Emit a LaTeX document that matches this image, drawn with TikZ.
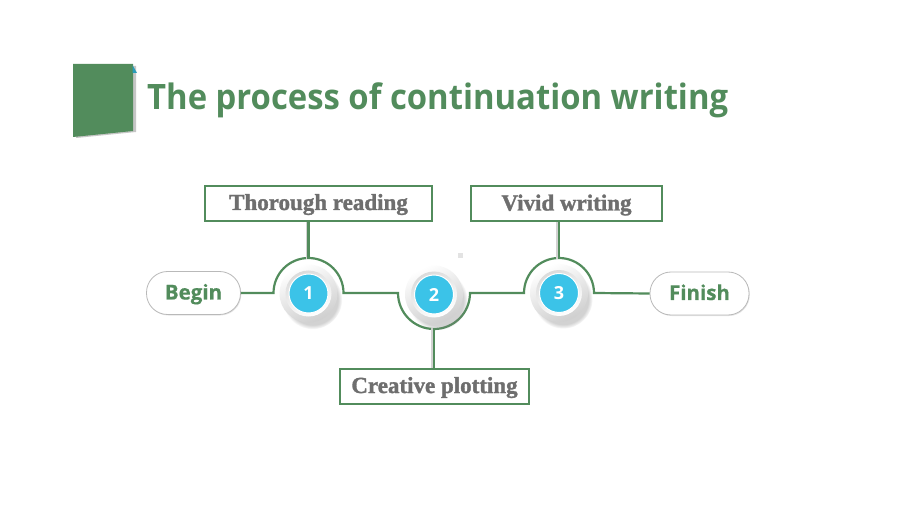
\documentclass[tikz,border=0pt]{standalone}
\usepackage{fontspec}
\setmainfont{Open Sans}
\newfontfamily\boxfont[FakeBold=1.4]{Liberation Serif}
\newfontfamily\pillfont[FakeBold=0.6]{Open Sans}
\usetikzlibrary{shadows,calc}
\definecolor{ggreen}{HTML}{528C5C}
\definecolor{ggrey}{HTML}{6E6E6E}
\definecolor{gblue}{HTML}{3BC3E8}
\definecolor{gteal}{HTML}{2A9CB8}
\begin{document}
\begin{tikzpicture}[x=1pt,y=1pt,
  conn/.style={ggreen, line width=2.2pt},
  labelbox/.style={draw=ggreen, line width=2pt, fill=white, minimum height=35pt,
    inner sep=0pt, text height=16pt, text depth=3pt,
    font=\boxfont\bfseries\fontsize{23}{23}\selectfont, text=ggrey},
  pill/.style={draw=gray!55, line width=0.8pt, fill=white, rounded corners=21pt,
    minimum height=43pt, inner sep=0pt, text height=13pt, text depth=0pt,
    font=\pillfont\bfseries\fontsize{20.5}{20.5}\selectfont, text=ggreen,
    drop shadow={shadow xshift=0.8pt, shadow yshift=-1pt, opacity=0.2}},
  ring/.style={circle, minimum size=58pt, inner sep=0pt,
    top color=white, bottom color=gray!38, shading angle=25,
    circular drop shadow={shadow xshift=4pt, shadow yshift=-6pt, shadow scale=1.02, opacity=0.35}},
  bevel/.style={top color=gray!28, bottom color=white, shading angle=25},
  core/.style={fill=gblue, draw=white, line width=1pt},
  num/.style={text=white, font=\bfseries\fontsize{18}{18}\selectfont, inner sep=0pt}
]
\useasboundingbox (0,0) rectangle (920,-518);
\fill[white] (0,0) rectangle (920,-518);

% header mark
\fill[gray!45] (76,-66) -- (136,-66) -- (136,-132) -- (76,-138) -- cycle;
\fill[ggreen] (73,-64) -- (133,-64) -- (133,-131) -- (73,-137) -- cycle;
\fill[gteal] (132.5,-65) -- (137,-73) -- (132.5,-73) -- cycle;
\node[anchor=base west, text=ggreen, font=\bfseries\fontsize{35}{35}\selectfont, inner sep=0pt]
  (title) at (147,-110) {\scalebox{0.938}[1]{The process of continuation writing}};

% small square
\fill[gray!22] (457.5,-253.5) rectangle (462.5,-258.5);

% label boxes
\node[labelbox, minimum width=227pt] (b1) at (318.5,-203.5) {Thorough reading};
\node[labelbox, minimum width=191pt] (b2) at (566.5,-204) {Vivid writing};
\node[labelbox, minimum width=189pt] (b3) at (434.5,-386.5) {Creative plotting};

% pills
\node[pill, minimum width=94pt] (begin) at (193.5,-293) {Begin};
\node[pill, minimum width=99pt] (finish) at (699.5,-293.5) {Finish};

% main line with arcs
\coordinate (c1) at (308.5,-293);
\coordinate (c2) at (434,-293);
\coordinate (c3) at (559,-293);
\draw[conn] (begin.east) -- ($(c1)+(-35,0)$) arc[start angle=180, end angle=0, radius=35pt]
  -- ($(c2)+(-36,0)$) arc[start angle=180, end angle=360, radius=36pt]
  -- ($(c3)+(-35,0)$) arc[start angle=180, end angle=0, radius=35pt]
  -- (finish.west);

% vertical connectors (with soft shadow)
\draw[gray!35, line width=1.5pt] ($(c1)+(-2,34)$) -- ($(b1.south)!(c1)!(b1.south east)+(-2,0)$);
\draw[conn] ($(c1)+(0,35)$) -- (c1 |- b1.south);
\draw[gray!35, line width=1.5pt] ($(c3)+(-2,34)$) -- ($(b2.south)!(c3)!(b2.south east)+(-2,0)$);
\draw[conn] ($(c3)+(0,35)$) -- (c3 |- b2.south);
\draw[gray!35, line width=1.5pt] ($(c2)+(-2,-35)$) -- ($(b3.north)!(c2)!(b3.north east)+(-2,0)$);
\draw[conn] ($(c2)+(0,-36)$) -- (c2 |- b3.north);

% step circles
\node[ring] (r1) at (308.5,-293.5) {};
\shade[bevel] (r1.center) circle[radius=23pt];
\fill[core] (r1.center) circle[radius=19.5pt];
\node[num] (n1) at (r1.center) {1};

\node[ring] (r2) at (434,-294.5) {};
\shade[bevel] (r2.center) circle[radius=23pt];
\fill[core] (r2.center) circle[radius=19.5pt];
\node[num] (n2) at (r2.center) {2};

\node[ring] (r3) at (559,-293) {};
\shade[bevel] (r3.center) circle[radius=23pt];
\fill[core] (r3.center) circle[radius=19.5pt];
\node[num] (n3) at (r3.center) {3};
\end{tikzpicture}
\end{document}
